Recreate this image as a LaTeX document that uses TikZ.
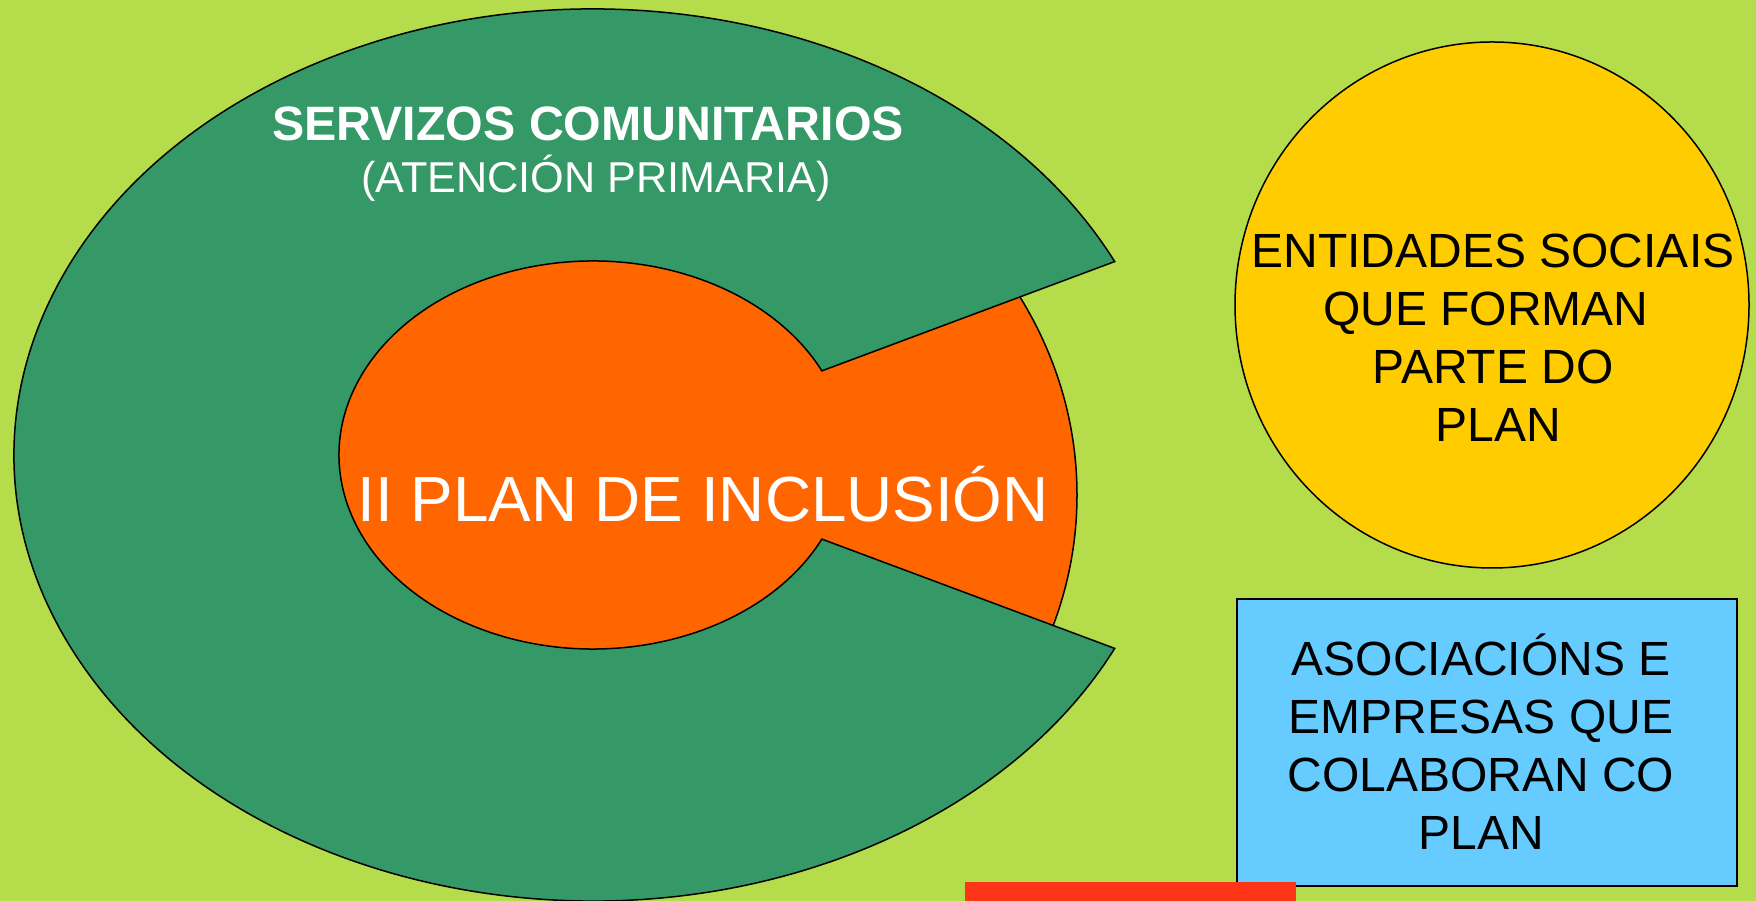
\documentclass[tikz,border=0pt]{standalone}
\usepackage{fontspec}
\setmainfont{Liberation Sans}

\definecolor{fondo}{RGB}{181,220,74}
\definecolor{verde}{RGB}{52,153,102}
\definecolor{naranxa}{RGB}{255,102,0}
\definecolor{amarelo}{RGB}{255,204,0}
\definecolor{ceo}{RGB}{102,204,255}
\definecolor{vermello}{RGB}{255,53,23}

\begin{document}
\begin{tikzpicture}[x=1pt,y=1pt,
    outline/.style={draw=black,line width=1.5pt},
    labeltext/.style={font=\fontsize{48}{58}\selectfont,align=center,inner sep=0pt}]
        \useasboundingbox (0,0) rectangle (1756,901);
        % Background
        \fill[fondo] (0,0) rectangle (1756,901);

        % Orange plan, only inside the ring
        \begin{scope}
            \clip (593,446) ellipse [x radius=579pt, y radius=446pt];
            \fill[naranxa, outline] (593,406) ellipse [x radius=484pt, y radius=420pt];
        \end{scope}

        % Green ring with its gap
        \coordinate (ringc) at (593,446);
        \path (ringc) ++(25.7:579 and 446) coordinate (cuttop);
        \path (ringc) ++(-25.7:254 and 194) coordinate (innerbot);
        \fill[verde, outline] (cuttop)
            arc[start angle=25.7, end angle=334.3, x radius=579pt, y radius=446pt]
            -- (innerbot)
            arc[start angle=-25.7, end angle=-334.3, x radius=254pt, y radius=194pt]
            -- cycle;

        \node[anchor=base, text=white, font=\fontsize{48.3}{58}\bfseries\selectfont] (servtitle) at (588,760) {SERVIZOS COMUNITARIOS};
        \node[anchor=base, text=white, font=\fontsize{43.2}{52}\selectfont] (servsub) at (596,708) {(ATENCIÓN PRIMARIA)};
        \node[anchor=base, text=white, font=\fontsize{63.8}{76}\selectfont] (plantitle) at (703,379) {II PLAN DE INCLUSIÓN};

        % Social entities
        \fill[amarelo, outline] (1492,596) ellipse [x radius=257pt, y radius=263pt];
        \node[labeltext] (entidades) at (1493,563) {ENTIDADES SOCIAIS\\QUE FORMAN\rule{14pt}{0pt}\\PARTE DO\\\rule{10pt}{0pt}PLAN};

        % Associations and companies
        \fill[ceo, outline] (1237,15) rectangle (1737,302);
        \node[labeltext] (asociacions) at (1481,159) {ASOCIACIÓNS E\\EMPRESAS QUE\\COLABORAN CO\\PLAN};

        % Red strip at the bottom
        \fill[vermello] (965,-2) rectangle (1296,19);
    \end{tikzpicture}
\end{document}
